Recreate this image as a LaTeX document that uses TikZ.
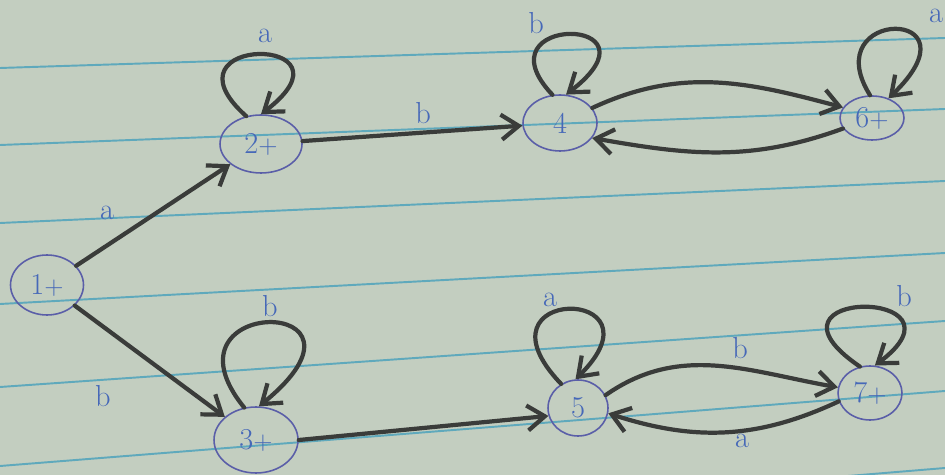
\documentclass[tikz,border=0pt]{standalone}
\usetikzlibrary{arrows.meta,shapes.geometric}
\definecolor{paper}{HTML}{C3CEC0}
\definecolor{ruling}{HTML}{5FA9BC}
\definecolor{ink}{HTML}{5A5EA8}
\definecolor{pencil}{HTML}{3A3C3A}
\definecolor{labink}{HTML}{4668B8}
\newcommand{\plusmark}{{\Large+}}
\tikzset{
  state/.style={ellipse, draw=ink, line width=0.9pt, inner sep=0pt, text=labink, font=\LARGE},
  trans/.style={draw=pencil, line width=2.4pt, line cap=round, -{Straight Barb[length=3.5mm,width=5mm]}},
  lab/.style={text=labink, font=\LARGE},
  ruleline/.style={draw=ruling, line width=1.1pt}
}
\begin{document}
\begin{tikzpicture}[x=0.02cm,y=-0.02cm]
\useasboundingbox (0,0) rectangle (945,475);
\fill[paper] (0,0) rectangle (945,475);
\begin{scope}
  \clip (0,0) rectangle (945,475);
  \foreach \ya/\yb in {68/38,145/109,223/181,304/253,387/321,466/391,546/468}
    \draw[ruleline] (0,\ya) -- (945,\yb);
\end{scope}

% states
\node[state, minimum width=1.46cm, minimum height=1.2cm] (n1) at (47,285) {1\plusmark};
\node[state, minimum width=1.64cm, minimum height=1.16cm] (n2) at (261,144) {2\plusmark};
\node[state, minimum width=1.48cm, minimum height=1.12cm] (n4) at (560,123) {4};
\node[state, minimum width=1.28cm, minimum height=0.88cm] (n6) at (872,118) {6\plusmark};
\node[state, minimum width=1.68cm, minimum height=1.32cm] (n3) at (256,440) {3\plusmark};
\node[state, minimum width=1.2cm, minimum height=1.12cm] (n5) at (578,408) {5};
\node[state, minimum width=1.28cm, minimum height=1.08cm] (n7) at (870,393) {7\plusmark};

% transitions
\draw[trans] (n1) -- (n2);
\draw[trans] (n1) -- (n3);
\draw[trans] (n2) -- (n4);
\draw[trans] (n3.east) -- (n5.195);
\draw[trans] (n4.25) to[out=25,in=165] (n6.160);
\draw[trans] (n6.200) to[out=200,in=-10] (n4.-25);
\draw[trans] (n5.25) to[out=35,in=170] (n7.170);
\draw[trans] (n7.195) to[out=205,in=-18] (n5.-10);

% loops
\draw[trans] (n2.118) .. controls +(-92,-82) and +(105,-80) .. (n2.90);
\draw[trans] (n4.105) .. controls +(-77,-81) and +(104,-80) .. (n4.78);
\draw[trans] (n6.95) .. controls +(-55,-88) and +(96,-92) .. (n6.50);
\draw[trans] (n3.110) .. controls +(-92,-113) and +(138,-112) .. (n3.85);
\draw[trans] (n5.125) .. controls +(-95,-99) and +(95,-94) .. (n5.95);
\draw[trans] (n7.111) .. controls +(-116,-79) and +(104,-78) .. (n7.80);

% labels
\node[lab] (la12) at (107,213) {a};
\node[lab] (lb13) at (103,396) {b};
\node[lab] (lb24) at (423,113) {b};
\node[lab] (la2) at (265,36) {a};
\node[lab] (lb4) at (536,23) {b};
\node[lab] (la6) at (936,16) {a};
\node[lab] (lb3) at (270,306) {b};
\node[lab] (la5) at (550,300) {a};
\node[lab] (lb7) at (904,296) {b};
\node[lab] (lb57) at (740,348) {b};
\node[lab] (la75) at (742,441) {a};
\end{tikzpicture}
\end{document}
